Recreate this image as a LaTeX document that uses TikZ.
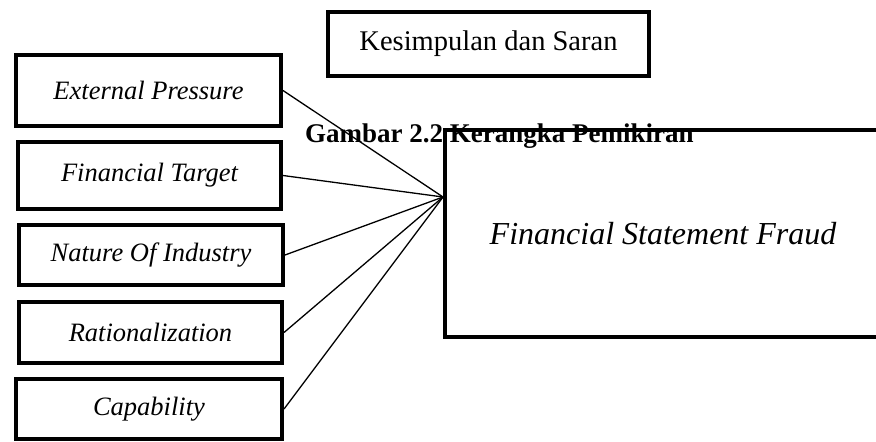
\documentclass[tikz,border=0pt]{standalone}
\usepackage{fontspec}
\setmainfont{Liberation Serif}
\usepackage{tikz}
\usetikzlibrary{calc}

\begin{document}
\begin{tikzpicture}[x=1pt,y=-1pt,inner sep=0pt,
  kotak/.style={draw,line width=4pt,rectangle},
  garis/.style={line width=1.3pt}]
\useasboundingbox (0,0) rectangle (876,442);

%% kotak kiri = variabel independen, "fsf" = variabel dependen
\node[kotak,minimum width=265,minimum height=71] (ep) at (148.5,90.5) {\fontsize{26.5}{30}\selectfont\itshape External Pressure};
\node[kotak,minimum width=263,minimum height=67] (ft) at (149.5,175.5) {\fontsize{26.5}{30}\selectfont\itshape Financial Target};
\node[kotak,minimum width=264,minimum height=60] (ni) at (151,255) {\fontsize{26.5}{30}\selectfont\itshape Nature Of Industry};
\node[kotak,minimum width=263,minimum height=61] (ra) at (150.5,332.5) {\fontsize{26.5}{30}\selectfont\itshape Rationalization};
\node[kotak,minimum width=266,minimum height=60] (ca) at (149,409) {\fontsize{26.5}{30}\selectfont\itshape Capability};

\node[kotak,minimum width=321,minimum height=64] (ks) at (488.5,44) {\fontsize{28.5}{33}\selectfont Kesimpulan dan Saran};
\node[kotak,minimum width=436,minimum height=207] (fsf) at (663,233.5) {\fontsize{32}{37}\selectfont\itshape Financial Statement Fraud};

\coordinate (hub) at (443,197);
\draw[garis] (ep.east)--(hub);
\draw[garis] (ft.east)--(hub);
\draw[garis] (ni.east)--(hub);
\draw[garis] (ra.east)--(hub);
\draw[garis] (ca.east)--(hub);

\node[anchor=base west] (cap) at (305,142) {\fontsize{27}{31}\selectfont\bfseries Gambar 2.2 Kerangka Pemikiran};
\end{tikzpicture}
\end{document}
